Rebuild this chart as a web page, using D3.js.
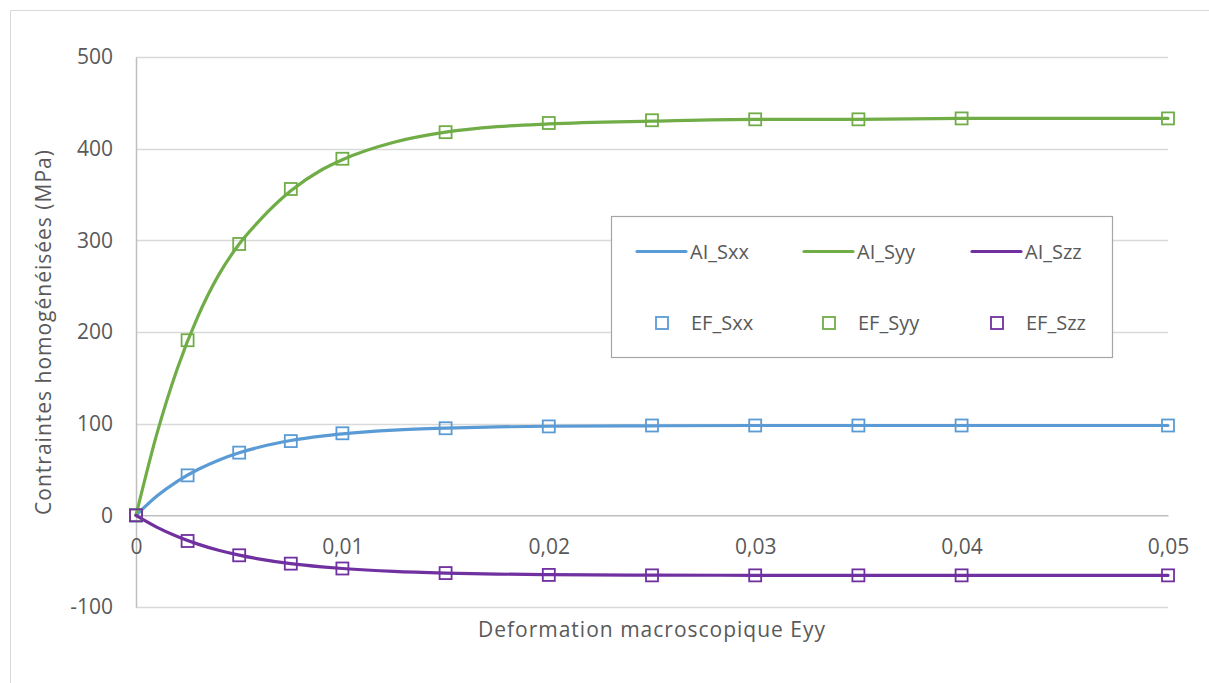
<!DOCTYPE html>
<html>
<head>
<meta charset="utf-8">
<script src="https://cdn.jsdelivr.net/npm/d3@7"></script>
<style>
  body { margin: 0; background: #fff; }
  text { font-family: "Open Sans", "Noto Sans", sans-serif; fill: #595959; }
</style>
</head>
<body>
<svg id="chart" width="1209" height="683"></svg>
<script>
// abscisses des points EF
var efX = [0, 0.0025, 0.005, 0.0075, 0.01, 0.015, 0.02, 0.025, 0.03, 0.035, 0.04, 0.05];
var efSxx = [0, 43.6, 68.4, 81, 89.5, 95, 97, 98, 98, 98, 98, 98];
var efSyy = [0, 191, 296, 356, 389, 418, 428, 431, 432, 432, 433, 433];
var efSzz = [0, -28, -43.6, -52.7, -58, -63, -65, -65.5, -65.5, -65.5, -65.5, -65.5];

// courbes AI
var aiX = [0, 0.001, 0.002, 0.003, 0.004, 0.005, 0.006, 0.0075, 0.009, 0.01, 0.0125, 0.015, 0.0175, 0.02, 0.025, 0.03, 0.035, 0.04, 0.045, 0.05];
var aiSxx = [0, 20.8, 37.1, 50, 60.2, 68.2, 74.5, 81.6, 86.5, 88.9, 93, 95.2, 96.5, 97.2, 97.7, 98, 98, 98, 98, 98];
var aiSyy = [0, 88, 160, 217, 262, 296, 322, 354, 377, 388, 407, 418, 424, 427, 430, 432, 432, 433, 433, 433];
var aiSzz = [0, -12.8, -23.1, -31.4, -38.1, -43.4, -47.7, -52.7, -56.2, -58, -61.2, -63, -64.1, -64.7, -65.2, -65.4, -65.5, -65.5, -65.5, -65.5];

var xTicks = [0, 0.01, 0.02, 0.03, 0.04, 0.05];
var yTicks = [-100, 0, 100, 200, 300, 400, 500];

var colors = {Sxx: "#5B9BD5", Syy: "#70AD47", Szz: "#7030A0"};

var svg = d3.select("#chart");

// cadre du graphique
svg.append("path")
  .attr("d", "M10.5,683 L10.5,10.5 L1209,10.5")
  .attr("fill", "none")
  .attr("stroke", "#d9d9d9");

var plotLeft = 136, plotRight = 1168, plotTop = 57, plotBottom = 607;

var xScale = d3.scaleLinear().domain([0, 0.05]).range([plotLeft, plotRight]);
var yScale = d3.scaleLinear().domain([-100, 500]).range([plotBottom, plotTop]);

// grille
svg.append("g")
  .selectAll("line")
  .data(yTicks.filter(function(d) { return d !== 0; }))
  .enter().append("line")
  .attr("x1", plotLeft).attr("x2", plotRight)
  .attr("y1", function(d) { return Math.round(yScale(d)) + 0.5; })
  .attr("y2", function(d) { return Math.round(yScale(d)) + 0.5; })
  .attr("stroke", "#d9d9d9")
  .attr("stroke-width", 1.3);

// axe vertical
var yAxis = d3.axisLeft(yScale).tickValues(yTicks).tickSize(0).tickPadding(23)
  .tickFormat(function(d) { return String(d); });
var gy = svg.append("g")
  .attr("transform", "translate(" + plotLeft + ",0)")
  .call(yAxis);
gy.select(".domain").attr("stroke", "#bfbfbf").attr("stroke-width", 1.5);
gy.selectAll("text").style("font-size", "21px").attr("fill", "#595959");

// axe horizontal en y = 0
var xAxis = d3.axisBottom(xScale).tickValues(xTicks).tickSize(0).tickPadding(24)
  .tickFormat(function(d) { return d === 0 ? "0" : d3.format(".2f")(d).replace(".", ","); });
var gx = svg.append("g")
  .attr("transform", "translate(0," + yScale(0) + ")")
  .call(xAxis);
gx.select(".domain").attr("stroke", "#bfbfbf").attr("stroke-width", 1.5);
gx.selectAll("text").style("font-size", "21px").attr("fill", "#595959");
gx.attr("font-family", null);
gy.attr("font-family", null);

// titres des axes
svg.append("text")
  .text("Deformation macroscopique Eyy")
  .attr("x", (plotLeft + plotRight) / 2)
  .attr("y", 637)
  .attr("text-anchor", "middle")
  .style("font-size", "21px")
  .style("letter-spacing", "1px");

svg.append("text")
  .text("Contraintes homogénéisées (MPa)")
  .attr("transform", "translate(51," + (plotTop + plotBottom) / 2 + ") rotate(-90)")
  .attr("text-anchor", "middle")
  .style("font-size", "21px")
  .style("letter-spacing", "1px");

// courbes AI
var drawLine = function(values, color) {
  var pts = aiX.map(function(x, i) { return [x, values[i]]; });
  var line = d3.line()
    .x(function(d) { return xScale(d[0]); })
    .y(function(d) { return yScale(d[1]); })
    .curve(d3.curveMonotoneX);
  svg.append("path")
    .datum(pts)
    .attr("d", line)
    .attr("fill", "none")
    .attr("stroke", color)
    .attr("stroke-width", 3.2)
    .attr("stroke-linecap", "round");
};
drawLine(aiSxx, colors.Sxx);
drawLine(aiSyy, colors.Syy);
drawLine(aiSzz, colors.Szz);

// points EF
var drawMarkers = function(values, color) {
  svg.append("g")
    .selectAll("rect")
    .data(efX.map(function(x, i) { return [x, values[i]]; }))
    .enter().append("rect")
    .attr("x", function(d) { return xScale(d[0]) - 6; })
    .attr("y", function(d) { return yScale(d[1]) - 6; })
    .attr("width", 12)
    .attr("height", 12)
    .attr("fill", "none")
    .attr("stroke", color)
    .attr("stroke-width", 1.8);
};
drawMarkers(efSxx, colors.Sxx);
drawMarkers(efSyy, colors.Syy);
drawMarkers(efSzz, colors.Szz);

// légende
var legend = svg.append("g");
legend.append("rect")
  .attr("x", 611.5).attr("y", 216.5)
  .attr("width", 501).attr("height", 141)
  .attr("fill", "#fff")
  .attr("stroke", "#a6a6a6")
  .attr("stroke-width", 1.2);

var legendNames = ["Sxx", "Syy", "Szz"];
var legendCols = [637, 804, 972];
legendNames.forEach(function(name, i) {
  var x0 = legendCols[i];
  legend.append("line")
    .attr("x1", x0).attr("x2", x0 + 49)
    .attr("y1", 251.5).attr("y2", 251.5)
    .attr("stroke", colors[name])
    .attr("stroke-width", 3.2)
    .attr("stroke-linecap", "round");
  legend.append("text")
    .text("AI_" + name)
    .attr("x", x0 + 53)
    .attr("y", 259)
    .style("font-size", "20px");
  legend.append("rect")
    .attr("x", x0 + 19).attr("y", 317)
    .attr("width", 12).attr("height", 12)
    .attr("fill", "none")
    .attr("stroke", colors[name])
    .attr("stroke-width", 1.8);
  legend.append("text")
    .text("EF_" + name)
    .attr("x", x0 + 54)
    .attr("y", 330)
    .style("font-size", "20px");
});
</script>
</body>
</html>
